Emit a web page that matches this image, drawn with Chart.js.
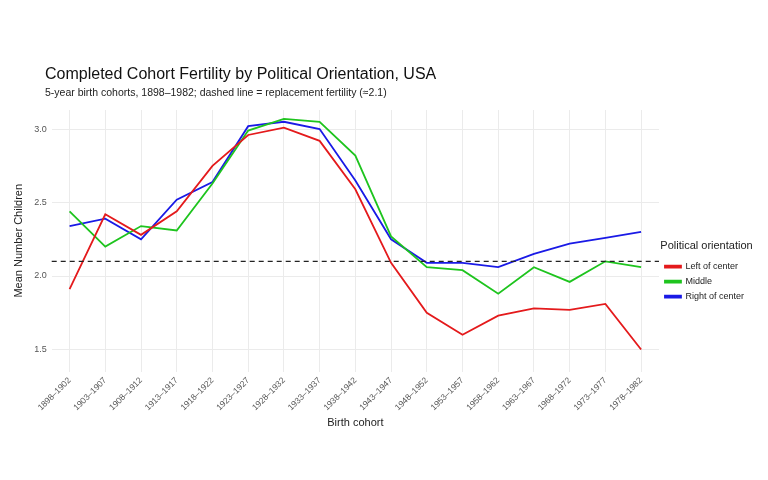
<!DOCTYPE html>
<html><head><meta charset="utf-8">
<script src="https://cdn.jsdelivr.net/npm/chart.js@4"></script>
<style>body{margin:0;background:#fff}#w{width:768px;height:480px}</style>
</head><body><div id="w"><canvas id="c"></canvas></div>
<script>
const cohorts=["1898–1902","1903–1907","1908–1912","1913–1917","1918–1922","1923–1927","1928–1932","1933–1937","1938–1942","1943–1947","1948–1952","1953–1957","1958–1962","1963–1967","1968–1972","1973–1977","1978–1982"];
const leftVals=[1.91,2.42,2.28,2.44,2.75,2.96,3.01,2.92,2.59,2.09,1.75,1.60,1.73,1.78,1.77,1.81,1.50];
const middleVals=[2.44,2.20,2.34,2.31,2.63,2.99,3.07,3.05,2.82,2.27,2.06,2.04,1.88,2.06,1.96,2.10,2.06];
const rightVals=[2.34,2.39,2.25,2.52,2.64,3.02,3.05,3.00,2.65,2.25,2.09,2.09,2.06,2.15,2.22,2.26,2.30];
const yTicks=[1.5,2.0,2.5,3.0];
const replacement=2.1;
const titleText='Completed Cohort Fertility by Political Orientation, USA';
const subText='5-year birth cohorts, 1898–1982; dashed line = replacement fertility (≈2.1)';
const refLine={id:'ref',afterDatasetsDraw(ch){const {ctx,chartArea:a,scales:{y}}=ch;const py=y.getPixelForValue(replacement);ctx.save();ctx.strokeStyle='#222';ctx.lineWidth=1.2;ctx.setLineDash([5,4]);ctx.beginPath();ctx.moveTo(a.left,py);ctx.lineTo(a.right,py);ctx.stroke();ctx.restore();},
afterDraw(ch){const ctx=ch.ctx;ctx.save();ctx.textBaseline='alphabetic';ctx.fillStyle='#111';ctx.font='16px "Liberation Sans"';ctx.fillText(titleText,45,79);ctx.fillStyle='#222';ctx.font='10.5px "Liberation Sans"';ctx.fillText(subText,45,96);ctx.restore();}};
const mk=(l,d,c)=>({label:l,data:d,borderColor:c,backgroundColor:c,borderWidth:1.8,pointRadius:0,tension:0});
new Chart(document.getElementById('c'),{type:'line',
data:{labels:cohorts,datasets:[mk('Left of center',leftVals,'#e41a1c'),mk('Middle',middleVals,'#1ec41e'),mk('Right of center',rightVals,'#1a1ae6')]},
plugins:[refLine],
options:{responsive:true,maintainAspectRatio:false,animation:false,
layout:{padding:{left:8,top:110,right:14,bottom:46}},
plugins:{title:{display:false},
legend:{position:'right',align:'center',title:{display:true,text:'Political orientation',color:'#222',font:{size:11,family:'Liberation Sans'},padding:{top:4,bottom:2}},labels:{boxWidth:16,boxHeight:2,color:'#222',font:{size:9,family:'Liberation Sans'},padding:6}},tooltip:{enabled:false}},
scales:{x:{offset:true,grid:{offset:false,color:'#ebebeb',drawTicks:false},border:{display:false},title:{display:true,text:'Birth cohort',color:'#222',font:{size:11,family:'Liberation Sans'},padding:{top:0}},ticks:{color:'#555',font:{size:8.5,family:'Liberation Sans'},maxRotation:45,minRotation:45,padding:4}},
y:{min:1.35,max:3.13,afterBuildTicks(s){s.ticks=yTicks.map(v=>({value:v}));},grid:{color:'#ebebeb',drawTicks:false},border:{display:false},title:{display:true,text:'Mean Number Children',color:'#222',font:{size:11,family:'Liberation Sans'}},ticks:{color:'#555',font:{size:9,family:'Liberation Sans'},padding:5,callback:v=>v.toFixed(1)}}}}});
</script></body></html>
